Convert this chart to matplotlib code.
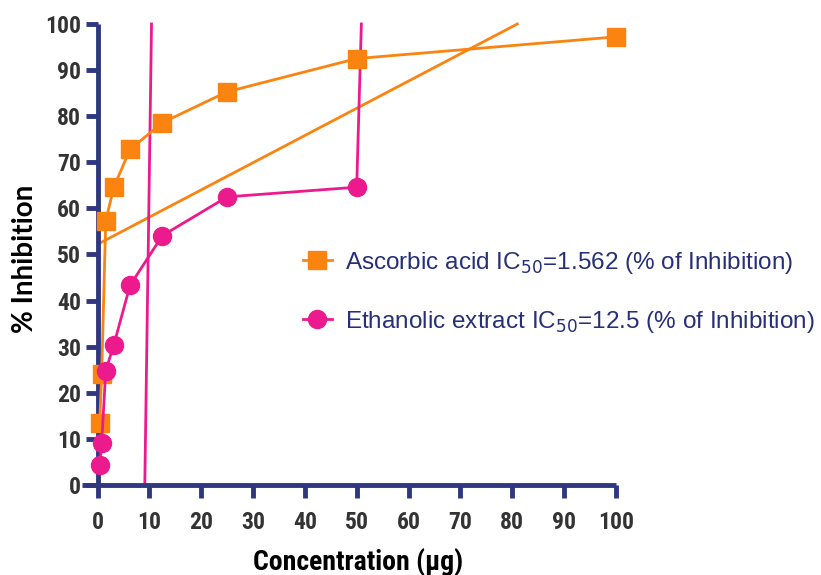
import matplotlib
matplotlib.use("Agg")
import matplotlib.pyplot as plt
from matplotlib.lines import Line2D

# concentrations (µg) and % inhibition
conc = [0.39, 0.78, 1.5625, 3.125, 6.25, 12.5, 25, 50, 100]
ascorbic = [13.5, 24.0, 57.3, 64.6, 72.8, 78.6, 85.3, 92.5, 97.2]

conc_eth = [0.39, 0.78, 1.5625, 3.125, 6.25, 12.5, 25, 50]
ethanolic = [4.3, 9.1, 24.8, 30.4, 43.3, 54.1, 62.5, 64.6]

# extra straight lines drawn on the chart (x pairs, y pairs)
asc_fit_x = [0.3, 81.0]
asc_fit_y = [52.4, 100.0]
eth_fit1_x = [9.1, 10.4]
eth_fit1_y = [0.0, 100.0]
eth_fit2_x = [50.0, 50.9]
eth_fit2_y = [64.6, 100.0]

x_ticks = list(range(0, 101, 10))
y_ticks = list(range(0, 101, 10))

ORANGE = "#fb8410"
PINK = "#ec1a8c"
NAVY = "#2f3781"
TEXT = "#333333"
NARROW = "Roboto Condensed"

fig = plt.figure(figsize=(8.21, 5.75), dpi=100)
ax = fig.add_axes([0.1, 0.1565, 0.65, 0.8018])

ax.plot(asc_fit_x, asc_fit_y, color=ORANGE, lw=2.0, zorder=2, clip_on=False)
ax.plot(eth_fit1_x, eth_fit1_y, color=PINK, lw=2.0, zorder=2, clip_on=False)
ax.plot(eth_fit2_x, eth_fit2_y, color=PINK, lw=2.0, zorder=2, clip_on=False)

ax.plot(conc, ascorbic, color=ORANGE, lw=2.0, marker="s", ms=13,
        mec=ORANGE, mfc=ORANGE, zorder=3, clip_on=False)
ax.plot(conc_eth, ethanolic, color=PINK, lw=2.0, marker="o", ms=13,
        mec=PINK, mfc=PINK, zorder=4, clip_on=False)

ax.set_xlim(-3, 100)
ax.set_ylim(0, 100)
ax.set_xticks(x_ticks)
ax.set_yticks(y_ticks)

for side in ("top", "right"):
    ax.spines[side].set_visible(False)
ax.spines["left"].set_position(("data", 0))
for side in ("left", "bottom"):
    ax.spines[side].set_color(NAVY)
    ax.spines[side].set_linewidth(3.5)
    ax.spines[side].set_capstyle("butt")
ax.tick_params(axis="both", direction="out", length=9, width=3.5, color=NAVY,
               labelcolor=TEXT)
ax.tick_params(axis="x", pad=10)
ax.tick_params(axis="y", pad=3)

for lab in ax.get_xticklabels() + ax.get_yticklabels():
    lab.set_fontfamily(NARROW)
    lab.set_fontweight("bold")
    lab.set_fontsize(17)

fig.text(0.436, 0.022, "Concentration (µg)", ha="center", va="center",
         family=NARROW, weight="bold", size=20, color="black")
fig.text(0.03, 0.55, "% Inhibition", rotation=90, ha="center", va="center",
         family="Lato", weight="bold", size=20, color="black")

handles = [
    Line2D([], [], color=ORANGE, lw=2.0, marker="s", ms=13),
    Line2D([], [], color=PINK, lw=2.0, marker="o", ms=13),
]
labels = [
    "Ascorbic acid IC$_{50}$=1.562 (% of Inhibition)",
    "Ethanolic extract IC$_{50}$=12.5 (% of Inhibition)",
]
leg = fig.legend(handles, labels, loc="center left",
                 bbox_to_anchor=(0.342, 0.492), frameon=False,
                 prop=dict(family="Liberation Sans", size=17.5),
                 labelspacing=1.35, handlelength=1.2, handletextpad=0.55)
for t in leg.get_texts():
    t.set_color("#262f78")

fig.savefig("out.png", dpi=100)
